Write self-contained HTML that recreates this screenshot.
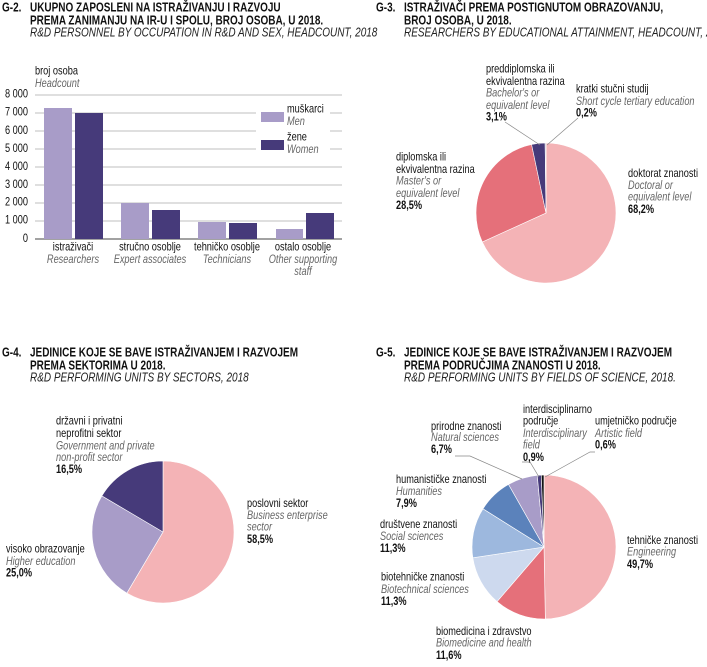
<!DOCTYPE html>
<html><head><meta charset="utf-8"><style>
html,body{margin:0;padding:0;background:#fff;}
svg{display:block;}
text{font-family:"Liberation Sans",sans-serif;font-size:11.5px;fill:#111;dominant-baseline:central;}
.t{font-weight:bold;font-size:12.5px;}
.ti{font-style:italic;font-size:12.5px;fill:#222;}
.i{font-style:italic;fill:#666;}
.b{font-weight:bold;}
</style></head><body>
<svg id="s" width="707" height="667" viewBox="0 0 707 667" xmlns="http://www.w3.org/2000/svg">
<text x="2" y="8" class="t">G-2.</text>
<text x="30" y="8" class="t">UKUPNO ZAPOSLENI NA ISTRAŽIVANJU I RAZVOJU</text>
<text x="30" y="21" class="t">PREMA ZANIMANJU NA IR-U I SPOLU, BROJ OSOBA, U 2018.</text>
<text x="30" y="33" class="ti">R&amp;D PERSONNEL BY OCCUPATION IN R&amp;D AND SEX, HEADCOUNT, 2018</text>
<text x="35" y="72">broj osoba</text>
<text x="35" y="84" class="i">Headcount</text>
<g stroke="#aaa" stroke-width="0.8">
<line x1="35" y1="95" x2="342" y2="95"/><line x1="35" y1="113" x2="342" y2="113"/><line x1="35" y1="131" x2="342" y2="131"/>
<line x1="35" y1="149" x2="342" y2="149"/><line x1="35" y1="167" x2="342" y2="167"/><line x1="35" y1="185" x2="342" y2="185"/>
<line x1="35" y1="203" x2="342" y2="203"/><line x1="35" y1="221" x2="342" y2="221"/>
</g>
<line x1="35" y1="239" x2="342" y2="239" stroke="#444" stroke-width="1"/>
<text x="28" y="95" text-anchor="end">8 000</text><text x="28" y="113" text-anchor="end">7 000</text>
<text x="28" y="131" text-anchor="end">6 000</text><text x="28" y="149" text-anchor="end">5 000</text>
<text x="28" y="167" text-anchor="end">4 000</text><text x="28" y="185" text-anchor="end">3 000</text>
<text x="28" y="203" text-anchor="end">2 000</text><text x="28" y="221" text-anchor="end">1 000</text>
<text x="28" y="239" text-anchor="end">0</text>
<rect x="256" y="104" width="74" height="57" fill="#fff"/>
<g fill="#a89cc8">
<rect x="44" y="108" width="28" height="131"/><rect x="121" y="203" width="28" height="36"/>
<rect x="198" y="222" width="28" height="17"/><rect x="276" y="229" width="27" height="10"/>
<rect x="261" y="112" width="23" height="10"/>
</g>
<g fill="#463a7a">
<rect x="75" y="113" width="28" height="126"/><rect x="152" y="210" width="28" height="29"/>
<rect x="229" y="223" width="28" height="16"/><rect x="306" y="213" width="28" height="26"/>
<rect x="261" y="140" width="23" height="10"/>
</g>
<text x="287" y="110">muškarci</text><text x="287" y="122" class="i">Men</text>
<text x="287" y="138">žene</text><text x="287" y="150" class="i">Women</text>
<text x="73" y="248" text-anchor="middle">istraživači</text><text x="73" y="260" text-anchor="middle" class="i">Researchers</text>
<text x="150" y="248" text-anchor="middle">stručno osoblje</text><text x="150" y="260" text-anchor="middle" class="i">Expert associates</text>
<text x="227" y="248" text-anchor="middle">tehničko osoblje</text><text x="227" y="260" text-anchor="middle" class="i">Technicians</text>
<text x="303" y="248" text-anchor="middle">ostalo osoblje</text><text x="303" y="260" text-anchor="middle" class="i">Other supporting</text>
<text x="303" y="272" text-anchor="middle" class="i">staff</text>

<text x="376" y="8" class="t">G-3.</text>
<text x="404" y="8" class="t">ISTRAŽIVAČI PREMA POSTIGNUTOM OBRAZOVANJU,</text>
<text x="404" y="21" class="t">BROJ OSOBA, U 2018.</text>
<text x="404" y="33" class="ti">RESEARCHERS BY EDUCATIONAL ATTAINMENT, HEADCOUNT, 2018</text>
<g id="p3"></g>
<line x1="505" y1="122" x2="540" y2="145" stroke="#888" stroke-width="0.7"/>
<line x1="578" y1="118" x2="547" y2="145" stroke="#888" stroke-width="0.7"/>
<text x="486" y="70">preddiplomska ili</text><text x="486" y="82">ekvivalentna razina</text>
<text x="486" y="94" class="i">Bachelor's or</text><text x="486" y="106" class="i">equivalent level</text><text x="486" y="118" class="b">3,1%</text>
<text x="576" y="90">kratki stučni studij</text><text x="576" y="102" class="i">Short cycle tertiary education</text><text x="576" y="114" class="b">0,2%</text>
<text x="396" y="158">diplomska ili</text><text x="396" y="170">ekvivalentna razina</text>
<text x="396" y="182" class="i">Master's or</text><text x="396" y="194" class="i">equivalent level</text><text x="396" y="206" class="b">28,5%</text>
<text x="628" y="174">doktorat znanosti</text><text x="628" y="186" class="i">Doctoral or</text>
<text x="628" y="198" class="i">equivalent level</text><text x="628" y="210" class="b">68,2%</text>

<text x="2" y="353" class="t">G-4.</text>
<text x="30" y="353" class="t">JEDINICE KOJE SE BAVE ISTRAŽIVANJEM I RAZVOJEM</text>
<text x="30" y="366" class="t">PREMA SEKTORIMA U 2018.</text>
<text x="30" y="378" class="ti">R&amp;D PERFORMING UNITS BY SECTORS, 2018</text>
<g id="p4"></g>
<text x="56" y="422">državni i privatni</text><text x="56" y="434">neprofitni sektor</text>
<text x="56" y="447" class="i">Government and private</text><text x="56" y="458" class="i">non-profit sector</text><text x="56" y="470" class="b">16,5%</text>
<text x="6" y="550">visoko obrazovanje</text><text x="6" y="562" class="i">Higher education</text><text x="6" y="574" class="b">25,0%</text>
<text x="247" y="504">poslovni sektor</text><text x="247" y="516" class="i">Business enterprise</text>
<text x="247" y="528" class="i">sector</text><text x="247" y="540" class="b">58,5%</text>

<text x="376" y="353" class="t">G-5.</text>
<text x="404" y="353" class="t">JEDINICE KOJE SE BAVE ISTRAŽIVANJEM I RAZVOJEM</text>
<text x="404" y="366" class="t">PREMA PODRUČJIMA ZNANOSTI U 2018.</text>
<text x="404" y="378" class="ti">R&amp;D PERFORMING UNITS BY FIELDS OF SCIENCE, 2018.</text>
<g id="p5"></g>
<polyline points="455,456 470,456 522,479" fill="none" stroke="#888" stroke-width="0.7"/>
<polyline points="522,462 530,462 539,477" fill="none" stroke="#888" stroke-width="0.7"/>
<polyline points="595,452 590,452 545,477" fill="none" stroke="#888" stroke-width="0.7"/>
<text x="431" y="427">prirodne znanosti</text><text x="431" y="438" class="i">Natural sciences</text><text x="431" y="450" class="b">6,7%</text>
<text x="523" y="410">interdisciplinarno</text><text x="523" y="422">područje</text>
<text x="523" y="434" class="i">Interdisciplinary</text><text x="523" y="446" class="i">field</text><text x="523" y="458" class="b">0,9%</text>
<text x="595" y="422">umjetničko područje</text><text x="595" y="434" class="i">Artistic field</text><text x="595" y="446" class="b">0,6%</text>
<text x="396" y="480">humanističke znanosti</text><text x="396" y="492" class="i">Humanities</text><text x="396" y="504" class="b">7,9%</text>
<text x="380" y="525">društvene znanosti</text><text x="380" y="537" class="i">Social sciences</text><text x="380" y="549" class="b">11,3%</text>
<text x="381" y="578">biotehničke znanosti</text><text x="381" y="590" class="i">Biotechnical sciences</text><text x="381" y="602" class="b">11,3%</text>
<text x="436" y="632">biomedicina i zdravstvo</text><text x="436" y="644" class="i">Biomedicine and health</text><text x="436" y="656" class="b">11,6%</text>
<text x="627" y="541">tehničke znanosti</text><text x="627" y="553" class="i">Engineering</text><text x="627" y="565" class="b">49,7%</text>
</svg>
<script>
function pie(id,cx,cy,r,data){
  var g=document.getElementById(id),a=0,tot=0,h='';
  data.forEach(function(d){tot+=d[0];});
  data.forEach(function(d){
    var a2=a+d[0]/tot*2*Math.PI;
    var x1=cx+r*Math.sin(a),y1=cy-r*Math.cos(a),x2=cx+r*Math.sin(a2),y2=cy-r*Math.cos(a2);
    var l=(a2-a)>Math.PI?1:0;
    h+='<path d="M'+cx+','+cy+'L'+x1+','+y1+'A'+r+','+r+' 0 '+l+' 1 '+x2+','+y2+'Z" fill="'+d[1]+'" stroke="#fff" stroke-width="0.6"/>';
    a=a2;
  });
  g.innerHTML=h;
}
pie('p3',546,213,70,[[68.2,'#f4b3b6'],[28.5,'#e5707a'],[3.1,'#463a7a'],[0.2,'#7a7aa8']]);
pie('p4',163,532,71,[[58.5,'#f4b3b6'],[25,'#a89cc8'],[16.5,'#463a7a']]);
pie('p5',544,547,72,[[49.7,'#f4b3b6'],[11.6,'#e5707a'],[11.3,'#cdd9ee'],[11.3,'#9db8de'],[7.9,'#5b82bb'],[6.7,'#a89cc8'],[0.9,'#463a7a'],[0.6,'#111']]);
var ts=document.querySelectorAll('#s text');
for(var k=0;k<ts.length;k++){var x=ts[k].getAttribute('x');ts[k].setAttribute('transform','translate('+x+',0) scale(0.8,1) translate('+(-x)+',0)');}
</script>
</body></html>
